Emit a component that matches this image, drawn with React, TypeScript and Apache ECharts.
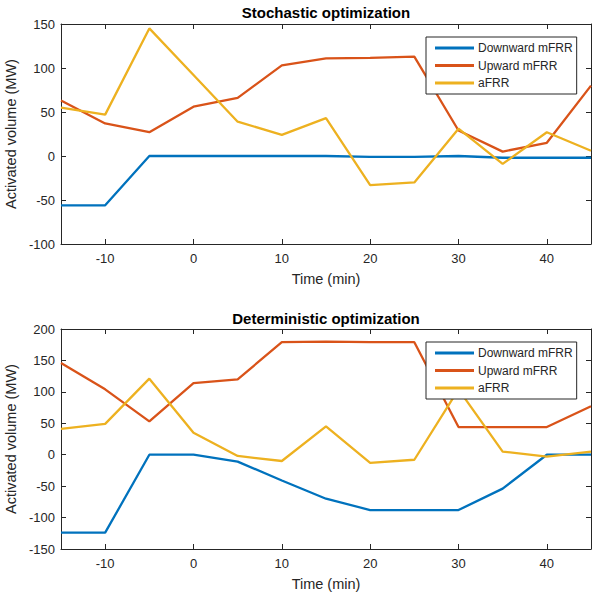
import React, { useEffect, useRef } from "react";
import * as echarts from "echarts";

const time = [-15, -10, -5, 0, 5, 10, 15, 20, 25, 30, 35, 40, 45];
const xTicks = [-10, 0, 10, 20, 30, 40];
const seriesNames = ["Downward mFRR", "Upward mFRR", "aFRR"];
const colors = ["#0072BD", "#D95319", "#EDB120"];

const stochDown = [-56, -56, 0, 0, 0, 0, 0, -1, -1, 0, -2, -2, -2];
const stochUp = [63, 37, 27, 56, 66, 103, 111, 111.5, 113, 29, 5, 15, 80];
const stochAfrr = [55, 47, 145, 92, 39, 24, 43, -33, -30, 31, -9, 27, 6];

const detDown = [-124, -124, 0, 0, -11, -41, -70, -88, -88, -88, -54, 0, 0];
const detUp = [146, 104, 53, 114, 120, 179, 180, 179, 179, 44, 44, 44, 77];
const detAfrr = [41, 49, 121, 35, -2, -10, 45, -13, -8, 104, 5, -3, 5];

const titles = ["Stochastic optimization", "Deterministic optimization"];
const yLabel = "Activated volume (MW)";
const xLabel = "Time (min)";

const TXT = "#262626";
const FONT = "'Liberation Sans', Arial, Helvetica, sans-serif";

export default function App() {
  const ref = useRef<HTMLDivElement>(null);
  useEffect(() => {
    const chart = echarts.init(ref.current!, null, { renderer: "svg" });
    const grids = [
      { left: 61, top: 24, width: 530, height: 220 },
      { left: 61, top: 329, width: 530, height: 220 },
    ];
    const yRanges = [
      [-100, 150],
      [-150, 200],
    ];
    const xAxes: any[] = [];
    const yAxes: any[] = [];
    grids.forEach((g, i) => {
      const common = {
        gridIndex: i,
        type: "value",
        min: -15,
        max: 45,
        axisLine: { onZero: false, lineStyle: { color: TXT, width: 1 } },
        axisTick: { inside: true, length: 5, customValues: xTicks, lineStyle: { color: TXT } },
        splitLine: { show: false },
      };
      xAxes.push({
        ...common,
        position: "bottom",
        name: xLabel,
        nameLocation: "middle",
        nameGap: 27,
        nameTextStyle: { color: TXT, fontSize: 14.5, fontFamily: FONT },
        axisLabel: { customValues: xTicks, color: TXT, fontSize: 13, fontFamily: FONT, margin: 8 },
      });
      xAxes.push({ ...common, position: "top", axisLabel: { show: false } });
      const ycommon = {
        gridIndex: i,
        type: "value",
        min: yRanges[i][0],
        max: yRanges[i][1],
        interval: 50,
        axisLine: { show: true, onZero: false, lineStyle: { color: TXT, width: 1 } },
        axisTick: { show: true, inside: true, length: 5, lineStyle: { color: TXT } },
        splitLine: { show: false },
      };
      yAxes.push({
        ...ycommon,
        position: "left",
        name: yLabel,
        nameLocation: "middle",
        nameGap: 34,
        nameTextStyle: { color: TXT, fontSize: 14.5, fontFamily: FONT },
        axisLabel: { color: TXT, fontSize: 13, fontFamily: FONT, margin: 6, showMinLabel: true, showMaxLabel: true },
      });
      yAxes.push({ ...ycommon, position: "right", axisLabel: { show: false } });
    });
    const sets = [
      [stochDown, stochUp, stochAfrr],
      [detDown, detUp, detAfrr],
    ];
    const series: any[] = [];
    sets.forEach((set, gi) => {
      set.forEach((vals, si) => {
        series.push({
          type: "line",
          name: seriesNames[si],
          xAxisIndex: gi * 2,
          yAxisIndex: gi * 2,
          data: time.map((t, k) => [t, vals[k]]),
          symbol: "none",
          lineStyle: { color: colors[si], width: 2.3 },
          itemStyle: { color: colors[si] },
          z: 3,
        });
      });
    });
    const legendCommon = {
      orient: "vertical",
      left: 426,
      data: seriesNames.map((n) => ({ name: n, icon: "rect" })),
      itemWidth: 39,
      itemHeight: 3,
      itemGap: 3.5,
      itemStyle: { borderWidth: 0 },
      textStyle: { color: TXT, fontSize: 12, fontFamily: FONT, lineHeight: 14, padding: [0, 0, 0, -1] },
      backgroundColor: "#ffffff",
      borderColor: TXT,
      borderWidth: 1,
      borderRadius: 0,
      padding: [4, 4, 4, 9],
      selectedMode: false,
      z: 10,
    };
    chart.setOption({
      animation: false,
      grid: grids.map((g) => ({ ...g, show: false, containLabel: false, outerBoundsMode: "none" })),
      xAxis: xAxes,
      yAxis: yAxes,
      series,
      legend: [
        { ...legendCommon, top: 37 },
        { ...legendCommon, top: 342 },
      ],
      graphic: titles.map((t, i) => ({
        type: "text",
        x: 326,
        y: i === 0 ? 12 : 318,
        style: {
          text: t,
          textAlign: "center",
          textVerticalAlign: "middle",
          fill: "#000000",
          font: `bold 15px ${FONT}`,
        },
      })),
    });
    return () => chart.dispose();
  }, []);
  return (
    <div
      ref={ref}
      style={{ position: "fixed", left: 0, top: 0, width: 592, height: 596, background: "#ffffff" }}
    />
  );
}
